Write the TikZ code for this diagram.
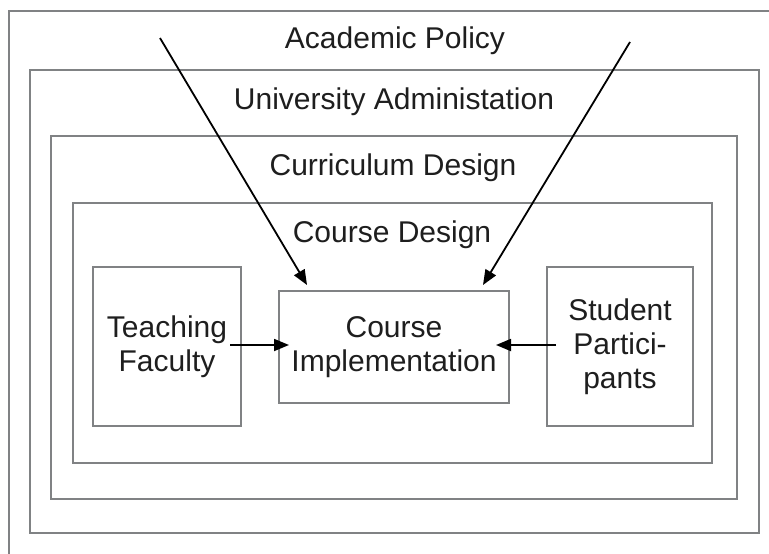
\documentclass[tikz,border=0pt]{standalone}
\usepackage{fontspec}
\setmainfont{Liberation Sans}
\usetikzlibrary{arrows.meta}
\definecolor{boxgray}{HTML}{808284}
\definecolor{txt}{HTML}{1E1E1E}
\tikzset{
  frame/.style={draw=boxgray, line width=1.6pt},
  lbl/.style={anchor=base, text=txt, font=\fontsize{30}{35}\selectfont, inner sep=0pt},
  inbox/.style={frame, align=center, text=txt, font=\fontsize{30}{34}\selectfont, inner sep=0pt},
  arr/.style={draw=black, line width=1.8pt, -{Triangle[length=15pt,width=12pt]}}
}
\begin{document}
\begin{tikzpicture}[x=1pt,y=-1pt]
\useasboundingbox (0,0) rectangle (769,554);
\clip (0,0) rectangle (769,554);
\fill[white] (0,0) rectangle (769,554);
% nested frames
\draw[frame] (9,11) rectangle (790,580);
\draw[frame] (30,70) rectangle (759,533);
\draw[frame] (51,136) rectangle (737,499);
\draw[frame] (73,203) rectangle (712,463);
% labels
\node[lbl] (acad) at (395,48) {Academic Policy};
\node[lbl] (univ) at (394,109) {University Administation};
\node[lbl] (curr) at (393,175) {Curriculum Design};
\node[lbl] (cdes) at (392,242) {Course Design};
% boxes
\node[inbox, minimum width=148pt, minimum height=159pt] (teach) at (167,346.5) {Teaching\\Faculty};
\node[inbox, minimum width=230pt, minimum height=112pt] (impl) at (394,347) {Course\\Implementation};
\node[inbox, minimum width=146pt, minimum height=159pt] (stud) at (620,346.5) {Student\\Partici-\\pants};
% connector ends
\coordinate (lsrc) at (160,38);
\coordinate (ltip) at (307,285);
\coordinate (rsrc) at (630,42);
\coordinate (rtip) at (483,285);
\coordinate (tsrc) at (230,345);
\coordinate (ttip) at (289,345);
\coordinate (ssrc) at (556,345);
\coordinate (stip) at (496,345);
\draw[arr] (lsrc) -- (ltip);
\draw[arr] (rsrc) -- (rtip);
\draw[arr] (tsrc) -- (ttip);
\draw[arr] (ssrc) -- (stip);
\end{tikzpicture}
\end{document}
